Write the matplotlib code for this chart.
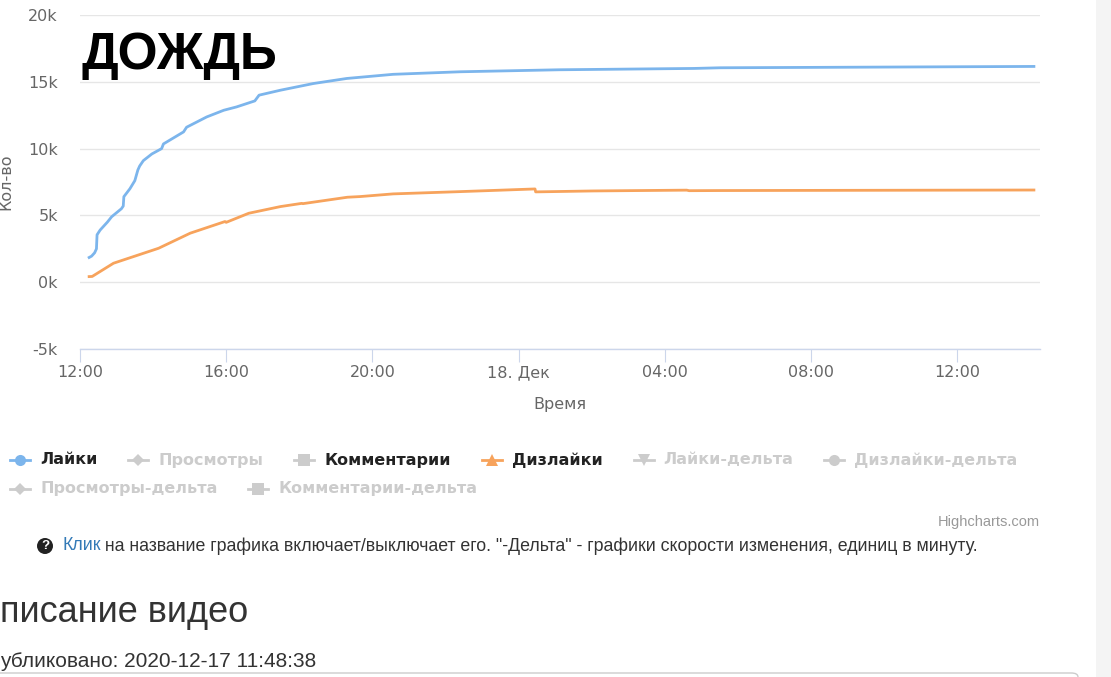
import matplotlib
matplotlib.use("Agg")
import matplotlib.pyplot as plt
import pandas as pd
from matplotlib.lines import Line2D
from matplotlib.patches import Rectangle, Circle, FancyBboxPatch
from matplotlib.ticker import MultipleLocator, FuncFormatter

# data
likes_time = ["2020-12-17 12:15", "2020-12-17 12:19", "2020-12-17 12:24", "2020-12-17 12:27",
              "2020-12-17 12:28", "2020-12-17 12:33", "2020-12-17 12:45", "2020-12-17 12:52",
              "2020-12-17 13:08", "2020-12-17 13:11", "2020-12-17 13:12", "2020-12-17 13:22",
              "2020-12-17 13:30", "2020-12-17 13:35", "2020-12-17 13:38", "2020-12-17 13:44",
              "2020-12-17 13:58", "2020-12-17 14:14", "2020-12-17 14:17", "2020-12-17 14:50",
              "2020-12-17 14:55", "2020-12-17 15:28", "2020-12-17 15:56", "2020-12-17 16:17",
              "2020-12-17 16:47", "2020-12-17 16:54", "2020-12-17 17:29", "2020-12-17 18:23",
              "2020-12-17 19:18", "2020-12-17 19:40", "2020-12-17 20:34", "2020-12-17 22:24",
              "2020-12-18 01:06", "2020-12-18 04:48", "2020-12-18 05:31", "2020-12-18 14:06"]
likes = [1850, 1950, 2200, 2500,
         3550, 3900, 4500, 4900,
         5500, 5700, 6400, 7000,
         7600, 8400, 8700, 9100,
         9600, 10000, 10350, 11250,
         11600, 12370, 12870, 13120,
         13570, 14000, 14370, 14870,
         15250, 15340, 15560, 15750,
         15900, 16000, 16050, 16150]

dislikes_time = ["2020-12-17 12:15", "2020-12-17 12:20", "2020-12-17 12:55", "2020-12-17 14:09",
                 "2020-12-17 15:01", "2020-12-17 15:58", "2020-12-17 16:00", "2020-12-17 16:37",
                 "2020-12-17 17:29", "2020-12-17 18:04", "2020-12-17 18:06", "2020-12-17 19:19",
                 "2020-12-17 19:40", "2020-12-17 20:34", "2020-12-17 22:24", "2020-12-18 00:27",
                 "2020-12-18 00:28", "2020-12-18 02:02", "2020-12-18 04:36", "2020-12-18 04:40",
                 "2020-12-18 05:31", "2020-12-18 14:06"]
dislikes = [420, 430, 1420, 2540,
            3670, 4540, 4480, 5160,
            5660, 5900, 5880, 6360,
            6410, 6610, 6780, 6980,
            6760, 6830, 6890, 6850,
            6860, 6900]

tick_times = ["2020-12-17 12:00", "2020-12-17 16:00", "2020-12-17 20:00", "2020-12-18 00:00",
              "2020-12-18 04:00", "2020-12-18 08:00", "2020-12-18 12:00"]
tick_labels = ["12:00", "16:00", "20:00", "18. Дек", "04:00", "08:00", "12:00"]

legend_names = ["Лайки", "Просмотры", "Комментарии", "Дизлайки", "Лайки-дельта",
                "Дизлайки-дельта", "Просмотры-дельта", "Комментарии-дельта"]
legend_on = [True, False, True, True, False, False, False, False]
legend_colors = ["#7cb5ec", "#cccccc", "#cccccc", "#f7a35c", "#cccccc", "#cccccc", "#cccccc", "#cccccc"]
legend_markers = ["o", "D", "s", "^", "v", "o", "D", "s"]

W, H = 1111, 677
fig = plt.figure(figsize=(W / 100, H / 100), dpi=100)


def fx(px):
    return px / W


def fy(py):
    return 1 - py / H


# light strip at the right edge of the screenshot
fig.patches.append(Rectangle((fx(1096), 0), fx(W) - fx(1096), 1, transform=fig.transFigure,
                             facecolor="#f4f4f4", edgecolor="none", zorder=0))

ax = fig.add_axes([fx(80), fy(349), fx(1040) - fx(80), fy(15) - fy(349)])

ax.plot(pd.to_datetime(likes_time), likes, color="#7cb5ec", lw=2.0, solid_joinstyle="round", zorder=3)
ax.plot(pd.to_datetime(dislikes_time), dislikes, color="#f7a35c", lw=2.0, solid_joinstyle="round", zorder=3)

ax.set_xlim(pd.Timestamp("2020-12-17 12:00"), pd.Timestamp("2020-12-18 14:16"))
ax.set_ylim(-5000, 20000)
ax.yaxis.set_major_locator(MultipleLocator(5000))
ax.yaxis.set_major_formatter(FuncFormatter(lambda v, p: "%dk" % int(round(v / 1000))))
ax.set_xticks(pd.to_datetime(tick_times))
ax.set_xticklabels(tick_labels)

ax.grid(axis="y", color="#e6e6e6", lw=1.0)
ax.set_axisbelow(True)
for s in ["top", "right", "left"]:
    ax.spines[s].set_visible(False)
ax.spines["bottom"].set_color("#ccd6eb")
ax.spines["bottom"].set_linewidth(1.0)
ax.spines["bottom"].set_zorder(4)

ax.tick_params(axis="y", length=0, pad=16, labelsize=11.5, labelcolor="#666666")
ax.tick_params(axis="x", length=9.4, width=0.8, color="#ccd6eb", pad=2,
               labelsize=11.5, labelcolor="#666666")

ax.set_xlabel("Время", fontsize=11.5, color="#666666")
ax.xaxis.label.set_va("center")
ax.xaxis.set_label_coords(0.5, -(405 - 349) / 334)
ax.set_ylabel("Кол-во", fontsize=11.5, color="#666666")
ax.yaxis.label.set_va("center")
ax.yaxis.set_label_coords(-(80 - 6) / 960, 0.5)

fig.text(fx(82), fy(69), "ДОЖДЬ", fontsize=37, fontweight="bold", family="Liberation Sans",
         color="black", va="baseline", ha="left")

# legend laid out like Highcharts: symbol, label, wrap at the plot width
renderer = fig.canvas.get_renderer()
lx, row_y = 10, 460
for name, on, col, mk in zip(legend_names, legend_on, legend_colors, legend_markers):
    t = fig.text(0, 0, name, fontsize=11.5, fontweight="bold", color="#222222" if on else "#cccccc",
                 va="center", ha="left")
    tw = t.get_window_extent(renderer).width
    if lx + 30 + tw > 1045:
        lx, row_y = 10, row_y + 29
    t.set_position((fx(lx + 30), fy(row_y)))
    fig.add_artist(Line2D([fx(lx), fx(lx + 20)], [fy(row_y), fy(row_y)], transform=fig.transFigure,
                          color=col, lw=2.0))
    fig.add_artist(Line2D([fx(lx + 10)], [fy(row_y)], transform=fig.transFigure, color=col,
                          marker=mk, markersize=8 if mk != "D" else 6, markeredgewidth=0))
    lx = lx + 30 + tw + 31

fig.text(fx(1040), fy(522), "Highcharts.com", fontsize=10.5, color="#999999", ha="right", va="center",
         family="Liberation Sans")

# hint line under the chart
fig.patches.append(Circle((45 / 100, (H - 546) / 100), 0.08, transform=fig.dpi_scale_trans,
                          facecolor="#222222", edgecolor="none"))
fig.text(fx(45), fy(546), "?", fontsize=9.5, fontweight="bold", color="white", ha="center", va="center",
         family="Liberation Sans")
k = fig.text(fx(62), fy(546), "Клик", fontsize=12.8, color="#337ab7", ha="left", va="center",
             family="Liberation Sans")
kw = k.get_window_extent(renderer).x1
fig.text(kw / W, fy(546), " на название графика включает/выключает его. \"-Дельта\" - графики скорости изменения, единиц в минуту.",
         fontsize=12.8, color="#333333", ha="left", va="center", family="Liberation Sans")

# page text below, cut by the left edge of the screenshot
fig.text(fx(0), fy(622), "писание видео", fontsize=26, color="#333333", ha="left", va="baseline",
         family="Liberation Sans")
fig.text(fx(0), fy(667), "убликовано: 2020-12-17 11:48:38", fontsize=15, color="#333333",
         ha="left", va="baseline", family="Liberation Sans")

fig.patches.append(FancyBboxPatch((-0.05, fy(700)), fx(1078) + 0.05, fy(673) - fy(700),
                                  boxstyle="round,pad=0,rounding_size=0.006", transform=fig.transFigure,
                                  facecolor="none", edgecolor="#cccccc", lw=1.0))

fig.savefig("out.png", dpi=100)
